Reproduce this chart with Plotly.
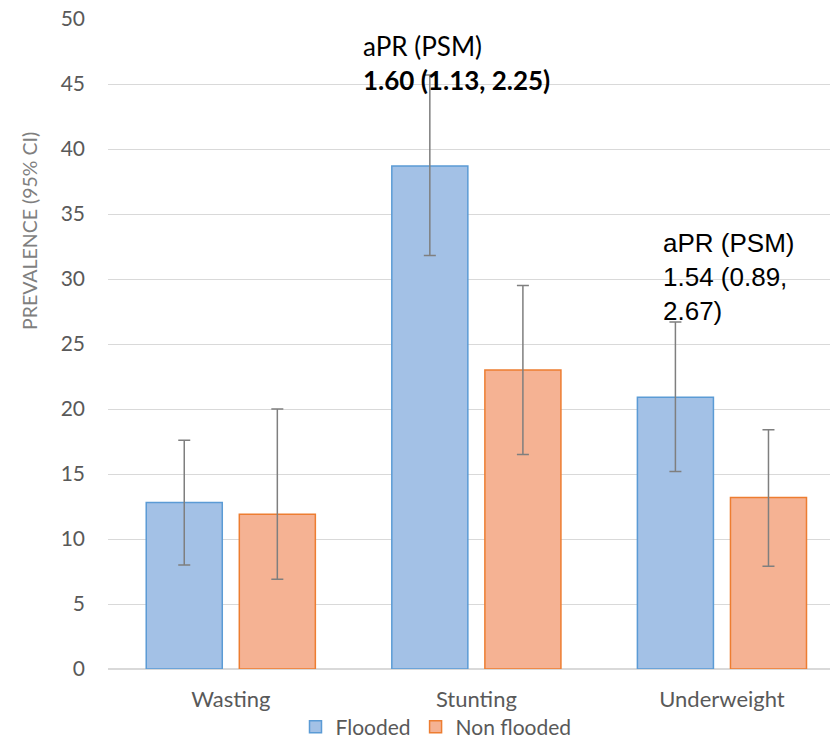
import plotly.graph_objects as go

categories = ["Wasting", "Stunting", "Underweight"]
flooded = [12.8, 38.7, 20.9]
flooded_lo = [8.0, 31.8, 15.2]
flooded_hi = [17.6, 45.7, 26.7]
nonflooded = [11.9, 23.0, 13.2]
nonflooded_lo = [6.9, 16.5, 7.9]
nonflooded_hi = [20.0, 29.5, 18.4]
y_ticks = [0, 5, 10, 15, 20, 25, 30, 35, 40, 45, 50]

W, H = 830, 741
L, R, T, B = 108, 0, 19, 72
PW, PH = W - L - R, H - T - B

def px(x):
    return (x - L) / PW

def py(y):
    return (H - B - y) / PH

TXT = "#595959"
ERR = "#7f7f7f"

fig = go.Figure()
fig.add_trace(go.Bar(
    name="Flooded", x=categories, y=flooded,
    marker=dict(color="#a3c1e6", line=dict(color="#5b9bd5", width=1.5)),
    error_y=dict(type="data", symmetric=False,
                 array=[h - v for h, v in zip(flooded_hi, flooded)],
                 arrayminus=[v - l for l, v in zip(flooded_lo, flooded)],
                 color=ERR, thickness=1.5, width=6),
))
fig.add_trace(go.Bar(
    name="Non flooded", x=categories, y=nonflooded,
    marker=dict(color="#f5b293", line=dict(color="#ed7d31", width=1.5)),
    error_y=dict(type="data", symmetric=False,
                 array=[h - v for h, v in zip(nonflooded_hi, nonflooded)],
                 arrayminus=[v - l for l, v in zip(nonflooded_lo, nonflooded)],
                 color=ERR, thickness=1.5, width=6),
))

fig.update_layout(
    width=W, height=H,
    margin=dict(l=L, r=R, t=T, b=B, autoexpand=False),
    paper_bgcolor="white", plot_bgcolor="white",
    barmode="group", bargap=0.242, bargroupgap=0.183,
    font=dict(family="Lato, Open Sans, sans-serif", color=TXT, size=21),
    xaxis=dict(range=[-0.5, 2.44], showgrid=False, showline=False, ticks="",
               automargin=False, ticklabeloverflow="allow",
               tickfont=dict(size=22, color=TXT), ticklabelstandoff=15),
    yaxis=dict(range=[0, 50], tickvals=y_ticks, showgrid=True, gridcolor="#d9d9d9",
               gridwidth=1, zeroline=True, zerolinecolor="#d9d9d9", zerolinewidth=1.5,
               showline=False, ticks="", tickfont=dict(size=21, color=TXT),
               automargin=False, ticklabeloverflow="allow", ticklabelstandoff=22),
    legend=dict(orientation="h", x=px(436), xanchor="center", y=py(727), yanchor="middle",
                bgcolor="rgba(0,0,0,0)",
                font=dict(size=21, color=TXT), itemwidth=30, traceorder="normal"),
    showlegend=True,
)

fig.add_annotation(text="PREVALENCE (95% CI)", xref="paper", yref="paper",
                   x=px(30), y=py(231), textangle=-90, showarrow=False,
                   xanchor="center", yanchor="middle",
                   font=dict(size=19.5, color="#7f7f7f"))

# Stunting annotation (Calibri-like)
fig.add_annotation(text="aPR (PSM)<br><b>1.60 (1.13, 2.25)</b>", xref="paper", yref="paper",
                   x=px(361), y=py(63), showarrow=False, xanchor="left", yanchor="middle",
                   align="left",
                   font=dict(family="Lato, sans-serif", size=26, color="black"))

# Underweight annotation (Arial-like)
fig.add_annotation(text="aPR (PSM)<br>1.54 (0.89,<br>2.67)", xref="paper", yref="paper",
                   x=px(661), y=py(277), showarrow=False, xanchor="left", yanchor="middle",
                   align="left",
                   font=dict(family="Liberation Sans, Arial, sans-serif", size=26,
                             color="black"))

fig.write_html("out.html", config={"displayModeBar": False},
               post_script="document.body.style.margin='0';document.body.style.overflow='hidden';")
